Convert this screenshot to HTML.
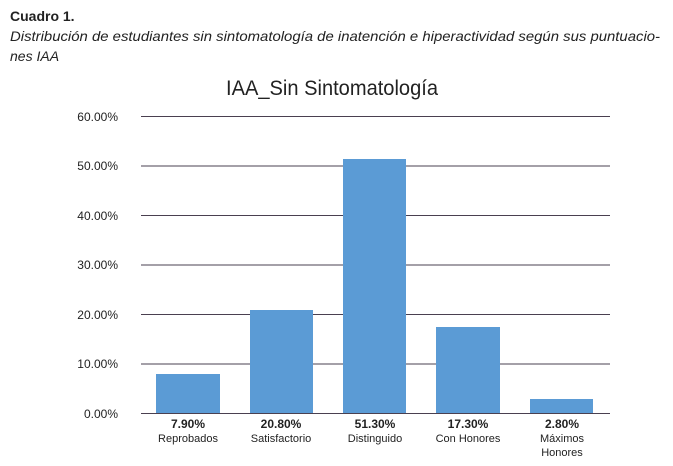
<!DOCTYPE html>
<html><head><meta charset="utf-8"><style>
body{margin:0;background:#fff;width:673px;height:461px;overflow:hidden;font-family:"Liberation Sans",sans-serif}
</style></head><body>
<svg width="673" height="461" xmlns="http://www.w3.org/2000/svg" font-family="Liberation Sans, sans-serif">
<text x="10" y="21" font-size="14" font-weight="bold" fill="#222">Cuadro 1.</text>
<text x="10" y="41" font-size="14" font-style="italic" fill="#222" textLength="650" lengthAdjust="spacingAndGlyphs">Distribución de estudiantes sin sintomatología de inatención e hiperactividad según sus puntuacio-</text>
<text x="10" y="61" font-size="14" font-style="italic" fill="#222">nes IAA</text>
<text x="332" y="95" font-size="21" text-anchor="middle" fill="#222" textLength="212" lengthAdjust="spacingAndGlyphs">IAA_Sin Sintomatología</text>
<g stroke="#4a4050" stroke-width="1">
<line x1="141" y1="116.5" x2="610" y2="116.5"/>
<line x1="141" y1="166" x2="610" y2="166"/>
<line x1="141" y1="215.5" x2="610" y2="215.5"/>
<line x1="141" y1="265" x2="610" y2="265"/>
<line x1="141" y1="314.5" x2="610" y2="314.5"/>
<line x1="141" y1="364" x2="610" y2="364"/>
<line x1="141" y1="413.5" x2="610" y2="413.5"/>
</g>
<g font-size="12" fill="#222" text-anchor="end">
<text x="118" y="121">60.00%</text>
<text x="118" y="170">50.00%</text>
<text x="118" y="220">40.00%</text>
<text x="118" y="269">30.00%</text>
<text x="118" y="319">20.00%</text>
<text x="118" y="368">10.00%</text>
<text x="118" y="418">0.00%</text>
</g>
<g fill="#5b9bd5">
<rect x="156" y="374" width="64" height="39"/>
<rect x="250" y="310" width="63" height="103"/>
<rect x="343" y="159" width="63" height="254"/>
<rect x="436" y="327" width="64" height="86"/>
<rect x="530" y="399" width="63" height="14"/>
</g>
<g font-size="12" font-weight="bold" fill="#222" text-anchor="middle">
<text x="188" y="428">7.90%</text>
<text x="281" y="428">20.80%</text>
<text x="375" y="428">51.30%</text>
<text x="468" y="428">17.30%</text>
<text x="562" y="428">2.80%</text>
</g>
<g font-size="11" fill="#222" text-anchor="middle">
<text x="188" y="442">Reprobados</text>
<text x="281" y="442">Satisfactorio</text>
<text x="375" y="442">Distinguido</text>
<text x="468" y="442">Con Honores</text>
<text x="562" y="442">Máximos</text>
<text x="562" y="456">Honores</text>
</g>
</svg>
</body></html>
